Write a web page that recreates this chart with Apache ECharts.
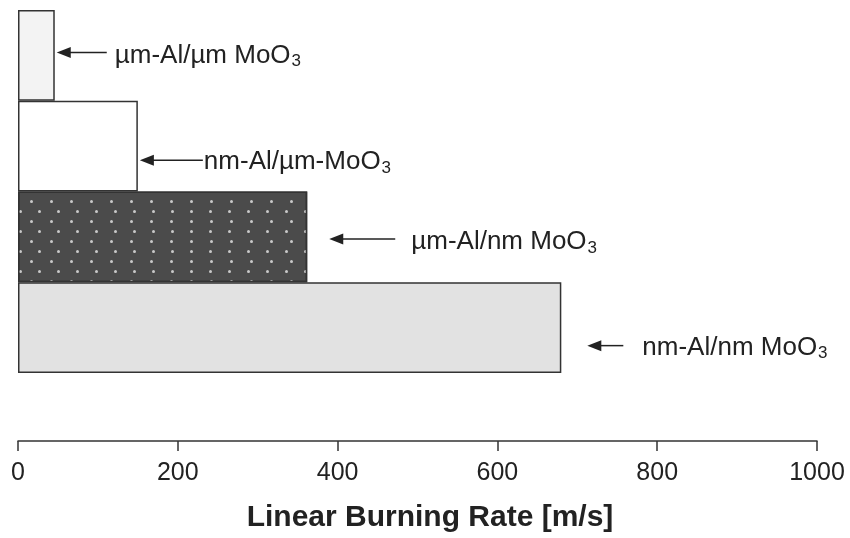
<!DOCTYPE html>
<html>
<head>
<meta charset="utf-8">
<script src="https://cdn.jsdelivr.net/npm/echarts@6/dist/echarts.min.js"></script>
<style>
html,body{margin:0;padding:0;background:#fff;}
#main{width:850px;height:538px;}
</style>
</head>
<body>
<div id="main"></div>
<script>
// ---- data ----
const categories = ['µm-Al/µm MoO3', 'nm-Al/µm-MoO3', 'µm-Al/nm MoO3', 'nm-Al/nm MoO3'];
const burningRates = [46, 150, 362, 680];
const labelMain = ['µm-Al/µm MoO', 'nm-Al/µm-MoO', 'µm-Al/nm MoO', 'nm-Al/nm MoO'];
const labelSub = ['3', '3', '3', '3'];
const xTicks = [0, 200, 400, 600, 800, 1000];
const axisTitle = 'Linear Burning Rate [m/s]';

// ---- styles / layout (not data) ----
const FONT = '"Liberation Sans", Arial, Helvetica, sans-serif';
const barStyles = [
  { color: '#f3f3f3' },
  { color: '#ffffff' },
  { color: '#4b4b4b', decal: { symbol: 'circle', symbolSize: 1, color: 'rgba(215,215,215,0.9)',
      dashArrayX: [[3, 16], [0, 9.5, 3, 6.5]], dashArrayY: [3, 6.7] } },
  { color: '#e2e2e2' }
];
// annotation layout: px offsets from bar end / band center
const annTipGap = [2, 2, 22, 26];
const annTailGap = [52, 65, 88, 62];
const annTextGap = [60, 66, 104, 81];
const annDy = [-3, 14, 2, 18];
const annTextDy = [3, 2, 3, 2];

const chart = echarts.init(document.getElementById('main'), null, { renderer: 'canvas' });

const option = {
  animation: false,
  backgroundColor: '#ffffff',
  grid: { left: 18, right: 33, top: 10, bottom: 162, containLabel: false },
  xAxis: {
    type: 'value', min: xTicks[0], max: xTicks[xTicks.length - 1], interval: 200,
    offset: 68,
    axisLine: { show: true, lineStyle: { color: '#333', width: 1.5 } },
    axisTick: { show: true, length: 10, lineStyle: { color: '#333', width: 1.5 } },
    splitLine: { show: false },
    axisLabel: { fontFamily: FONT, fontSize: 25, color: '#222', margin: 20,
      formatter: v => String(v) },
    name: axisTitle, nameLocation: 'middle', nameGap: 62,
    nameTextStyle: { fontFamily: FONT, fontSize: 30, fontWeight: 'bold', color: '#222', padding: [0, 0, 0, 25] }
  },
  yAxis: {
    type: 'category', data: categories, inverse: true, show: false,
    axisLine: { show: false }, axisTick: { show: false }, axisLabel: { show: false }
  },
  series: [{
    type: 'bar',
    barWidth: '100%',
    barCategoryGap: 0,
    data: burningRates.map((v, i) => ({
      value: v,
      itemStyle: Object.assign({ borderColor: '#333', borderWidth: 1.5 }, barStyles[i])
    }))
  }]
};
chart.setOption(option);

function buildAnnotations() {
  const els = [];
  burningRates.forEach((v, i) => {
    const xEnd = chart.convertToPixel({ xAxisIndex: 0 }, v);
    const yc = chart.convertToPixel({ yAxisIndex: 0 }, categories[i]);
    const y = yc + annDy[i];
    const tip = xEnd + annTipGap[i];
    const tail = xEnd + annTailGap[i];
    els.push({
      type: 'line', silent: true,
      shape: { x1: tip + 8, y1: y, x2: tail, y2: y },
      style: { stroke: '#222', lineWidth: 1.5 }
    });
    els.push({
      type: 'polygon', silent: true,
      shape: { points: [[tip, y], [tip + 14, y - 5.5], [tip + 14, y + 5.5]] },
      style: { fill: '#222' }
    });
    els.push({
      type: 'text', silent: true,
      x: xEnd + annTextGap[i], y: y + annTextDy[i],
      style: {
        text: '{t|' + labelMain[i] + '}{s|' + labelSub[i] + '}',
        verticalAlign: 'middle', align: 'left',
        rich: {
          t: { fontFamily: FONT, fontSize: 26, fill: '#222', lineHeight: 30 },
          s: { fontFamily: FONT, fontSize: 17, fill: '#222', lineHeight: 30, padding: [12, 0, 0, 1] }
        }
      }
    });
  });
  chart.setOption({ graphic: { elements: els } });
}
buildAnnotations();
</script>
</body>
</html>
